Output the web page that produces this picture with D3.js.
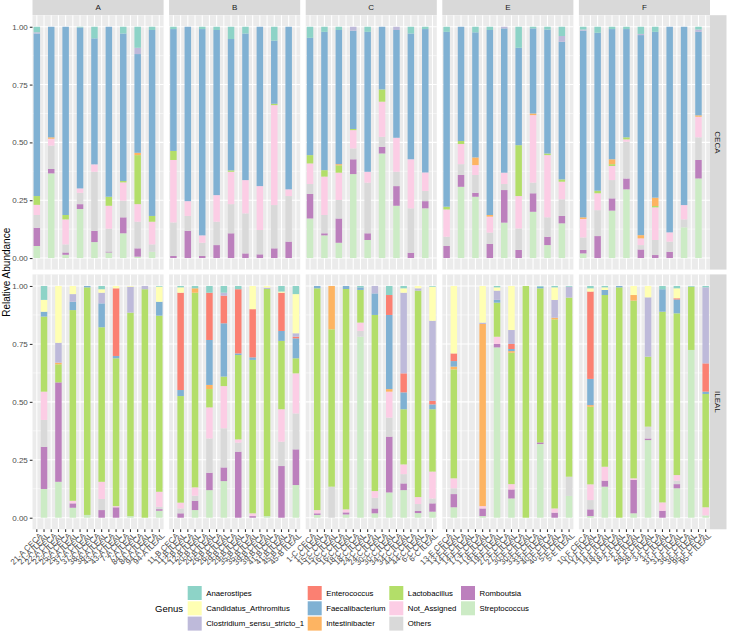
<!DOCTYPE html>
<html><head><meta charset="utf-8">
<script src="https://cdn.jsdelivr.net/npm/d3@7"></script>
<style>body{margin:0;background:#fff} svg{display:block} text{font-family:"Liberation Sans",Arial,Helvetica,sans-serif}</style>
</head><body><svg id="c" width="729" height="634"></svg>
<script>
// ---------- data ----------
const genera = ["Anaerostipes","Candidatus_Arthromitus","Clostridium_sensu_stricto_1","Enterococcus","Faecalibacterium","Intestinibacter","Lactobacillus","Not_Assigned","Others","Romboutsia","Streptococcus"];
const genusColors = ["#8DD3C7","#FFFFB3","#BEBADA","#FB8072","#80B1D3","#FDB462","#B3DE69","#FCCDE5","#D9D9D9","#BC80BD","#CCEBC5"];
const groups = ["A","B","C","E","F"];
const segments = ["CECA","ILEAL"];
const sampleIds = [
  ["21-A","22-A","25-A","37-A","38-A","43-A","7-A","84-A","94-A"],
  ["11-B","12-B","20-B","26-B","29-B","35-B","39-B","41-B","45-B"],
  ["1-C","15-C","16-C","18-C","24-C","30-C","34-C","44-C","6-C"],
  ["13-E","14-E","17-E","19-E","27-E","30-E","33-E","40-E","5-E"],
  ["10-F","14-F","18-F","2-F","28-F","3-F","31-F","36-F","95-F"]
];
const yTicks = [0, 0.25, 0.5, 0.75, 1];

// values per genus, 45 samples each: groups A,B,C,E,F x 9 samples
const Anaerostipes_CECA = [.024,0,0,.003,.05,0,.029,.091,.014, .01,0,.01,.014,.053,.029,0,.06,0, .048,.022,.014,0,.022,0,0,.029,.01, .022,0,.024,.014,0,.091,.007,.012,.04, .012,.026,.01,.01,.031,.022,0,0,.012];
const Candidatus_Arthromitus_CECA = [0,0,0,0,0,0,0,0,0, 0,0,0,0,0,0,0,0,0, 0,0,0,0,0,0,0,0,0, 0,0,0,0,0,0,0,0,0, 0,0,0,0,0,0,0,0,0];
const Clostridium_CECA = [.005,0,0,0,0,0,0,.027,0, 0,0,0,0,0,0,0,0,0, 0,0,0,.017,0,0,.014,0,0, 0,0,0,0,.007,0,0,0,.025, .005,0,0,0,.005,0,0,0,.01];
const Enterococcus_CECA = [0,0,0,0,0,0,0,0,0, 0,0,0,0,0,0,0,0,0, 0,0,0,0,0,0,0,0,0, 0,0,0,0,0,0,0,0,0, 0,0,0,0,0,0,0,0,0];
const Faecalibacterium_CECA = [.703,.478,.814,.696,.545,.735,.638,.427,.804, .527,.754,.892,.714,.568,.634,.689,.273,.703, .507,.598,.58,.425,.605,.271,.466,.544,.62, .756,.494,.541,.8,.624,.421,.368,.536,.595, .807,.683,.563,.468,.865,.717,.889,.771,.361];
const Intestinibacter_CECA = [0,.006,0,0,0,0,0,.01,0, 0,0,0,0,0,0,0,0,0, 0,0,.005,0,0,0,0,0,0, 0,0,.033,.007,0,0,.007,0,0, .007,0,.021,0,.014,.036,0,0,.006];
const Lactobacillus_CECA = [.038,0,.019,0,0,.039,.006,.212,.025, .039,0,0,0,.006,0,0,.006,0, .036,.028,.032,.005,0,.053,0,0,0, .012,.013,0,0,0,.22,0,.007,.01, 0,.011,.008,.009,0,.006,0,0,0];
const Not_Assigned_CECA = [.044,.03,.108,.019,.032,.099,.079,.076,.098, .27,.064,.032,.115,.14,.144,.19,.432,.029, .089,.166,.118,.079,.047,.152,.147,.212,.08, .118,.087,.043,.069,.049,.14,.292,.269,.076, .08,.073,.061,.01,.029,.141,.04,.062,.089];
const Others_CECA = [.055,.101,.035,.049,.256,.099,.072,.115,.032, .145,.064,.057,.101,.126,.173,.105,.187,.197, .043,.079,.08,.047,.219,.043,.062,.192,.044, .04,.047,.077,.049,.026,.093,.046,.084,.072, .054,.112,.079,.159,.019,.065,.044,.034,.098];
const Romboutsia_CECA = [.079,.019,.01,.021,.048,.004,.069,.036,0, .009,.118,.009,.056,.107,.02,.016,.042,.071, .106,.009,.105,.064,.029,.029,.085,.023,.031, .052,.051,.017,.061,.141,.035,.08,.036,.032, .015,.095,.053,.047,.037,.013,.027,0,.08];
const Streptococcus_CECA = [.052,.366,.014,.212,.069,.024,.107,.006,.027, 0,0,0,0,0,0,0,0,0, .171,.098,.066,.363,.078,.452,.226,0,.215, 0,.308,.265,0,.153,0,.2,.056,.15, .02,0,.205,.297,0,0,0,.133,.344];

const Anaerostipes_ILEAL = [.06,0,0,0,.014,0,0,0,.003, .006,.01,.029,.029,.014,0,0,.024,.035, 0,0,0,.006,0,.039,.01,0,.003, 0,0,0,.006,0,0,.003,.006,.003, .01,.006,0,0,0,.014,.01,.003,.006];
const Candidatus_Arthromitus_ILEAL = [.051,.245,.035,0,.015,.01,.003,0,.065, .023,0,0,0,0,.1,.007,.005,.169, 0,0,0,0,0,0,.019,.01,.147, .291,0,.158,.014,.19,0,0,.054,0, .014,.011,0,.039,.049,0,.043,0,0];
const Clostridium_ILEAL = [0,.086,.033,0,.046,0,.112,.014,0, 0,0,0,.013,0,0,.006,0,.015, 0,0,0,0,.032,0,.348,.01,.346, 0,0,.006,.04,.06,0,0,.077,.047, 0,0,0,0,.256,0,0,0,.328];
const Enterococcus_ILEAL = [0,0,0,0,0,.292,0,0,0, .42,0,.204,.119,.277,.208,0,.165,.007, 0,0,0,0,0,.086,.082,0,.015, .033,0,0,0,.022,0,0,0,0, .377,0,0,0,0,0,.005,0,.122];
const Faecalibacterium_ILEAL = [.021,0,.036,.006,.103,.01,0,0,.06, .026,0,.194,.23,.007,.011,0,.043,.086, .01,0,.013,.011,.093,.32,.073,0,.021, .024,0,0,.012,.009,0,.007,0,0, .113,.022,.006,0,0,.097,.06,0,.01];
const Intestinibacter_ILEAL = [0,.007,0,0,0,0,0,0,0, 0,.019,.018,0,0,0,0,0,0, 0,.187,0,0,0,.011,0,0,0, .012,0,.786,0,.007,0,0,.007,0, .007,0,0,.024,0,0,0,0,0];
const Lactobacillus_ILEAL = [.324,.078,.823,.982,.667,.638,.878,.986,.76, .46,.84,.079,.041,.364,.662,.98,.295,.065, .957,.679,.951,.141,.76,0,.238,.891,.269, .47,0,0,.147,.567,1,.665,.816,.773, .335,.741,.994,.767,.302,.823,.698,.273,.489];
const Not_Assigned_ILEAL = [.122,0,.011,0,.074,.005,0,0,.065, .025,.036,.134,.182,.014,.012,0,.14,.173, .014,0,.013,.036,.029,.112,.042,.03,.116, .043,0,.01,.031,.023,0,0,.018,0, .068,.06,0,.007,0,.036,.024,0,.035];
const Others_ILEAL = [.116,0,0,0,.048,0,0,0,.01, .021,.022,.148,.169,.039,0,0,.105,.155, 0,.134,0,.025,.046,.082,.04,.03,.021, .025,0,0,0,0,0,0,0,.083, .04,0,0,0,.051,0,.015,0,0];
const Romboutsia_ILEAL = [.182,.429,.019,0,.033,.045,0,0,.007, .019,.04,.075,.059,.285,.007,0,.223,.154, .007,0,.009,0,.021,.241,.029,.009,.036, .057,0,.033,.015,.039,0,.007,.022,0, .029,.026,0,.144,.007,.03,.018,0,0];
const Streptococcus_ILEAL = [.124,.155,.043,.012,0,0,.007,0,.03, 0,.033,.119,.158,0,0,.007,0,.141, .012,0,.014,.781,.019,.109,.119,.02,.026, .045,0,.007,.735,.083,0,.318,0,.094, .007,.134,0,.019,.335,0,.127,.724,.01];

const cecaSeries = [Anaerostipes_CECA,Candidatus_Arthromitus_CECA,Clostridium_CECA,Enterococcus_CECA,Faecalibacterium_CECA,Intestinibacter_CECA,Lactobacillus_CECA,Not_Assigned_CECA,Others_CECA,Romboutsia_CECA,Streptococcus_CECA];
const ilealSeries = [Anaerostipes_ILEAL,Candidatus_Arthromitus_ILEAL,Clostridium_ILEAL,Enterococcus_ILEAL,Faecalibacterium_ILEAL,Intestinibacter_ILEAL,Lactobacillus_ILEAL,Not_Assigned_ILEAL,Others_ILEAL,Romboutsia_ILEAL,Streptococcus_ILEAL];

// ---------- layout ----------
const svg = d3.select("#c");
const color = d3.scaleOrdinal().domain(genera).range(genusColors);
const panelX0 = 32.5, panelW = 131.1, gapX = 5.5;
const rows = [{top:15.2, bottom:269.6},{top:274.4, bottom:529.3}];
const stripH = 15, rightStripW = 16.5;
const gridCol = "#FFFFFF", panelBg = "#EBEBEB", stripBg = "#D9D9D9", axisCol = "#4D4D4D";

const rowsData = [];
segments.forEach((seg, si) => {
  const series = si === 0 ? cecaSeries : ilealSeries;
  groups.forEach((g, gi) => {
    sampleIds[gi].forEach((id, k) => {
      const idx = gi * 9 + k;
      const r = {group: g, seg: seg, cat: id + " " + seg};
      genera.forEach((ge, j) => r[ge] = series[j][idx]);
      rowsData.push(r);
    });
  });
});

const stack = d3.stack().keys(genera.slice().reverse()).offset(d3.stackOffsetExpand);

groups.forEach((g, gi) => {
  const x0 = panelX0 + gi * (panelW + gapX);
  const cats = [];
  sampleIds[gi].forEach(id => { cats.push(id + " CECA"); cats.push(id + " ILEAL"); });
  const x = d3.scaleBand().domain(cats).range([x0, x0 + panelW]).paddingInner(0.1).paddingOuter(0.15);

  // top strip
  svg.append("rect").attr("x", x0).attr("y", 0).attr("width", panelW).attr("height", stripH).attr("fill", stripBg);
  svg.append("text").attr("x", x0 + panelW / 2).attr("y", stripH / 2).attr("dy", "0.35em")
    .attr("text-anchor", "middle").attr("font-size", 8).attr("fill", "#1A1A1A").text(g);

  segments.forEach((seg, si) => {
    const R = rows[si];
    const y = d3.scaleLinear().domain([-0.05, 1.05]).range([R.bottom, R.top]);
    const p = svg.append("g");
    p.append("rect").attr("x", x0).attr("y", R.top).attr("width", panelW).attr("height", R.bottom - R.top).attr("fill", panelBg);
    // minor grid
    [0.125, 0.375, 0.625, 0.875].forEach(v => p.append("line").attr("x1", x0).attr("x2", x0 + panelW)
      .attr("y1", y(v)).attr("y2", y(v)).attr("stroke", gridCol).attr("stroke-width", 0.53));
    yTicks.forEach(v => p.append("line").attr("x1", x0).attr("x2", x0 + panelW)
      .attr("y1", y(v)).attr("y2", y(v)).attr("stroke", gridCol).attr("stroke-width", 1.07));
    cats.forEach(c => p.append("line").attr("x1", x(c) + x.bandwidth() / 2).attr("x2", x(c) + x.bandwidth() / 2)
      .attr("y1", R.top).attr("y2", R.bottom).attr("stroke", gridCol).attr("stroke-width", 1.07));

    const data = rowsData.filter(r => r.group === g && r.seg === seg);
    const st = stack(data);
    st.forEach(layer => {
      p.selectAll(null).data(layer.filter(d => d[1] - d[0] > 0)).enter().append("rect")
        .attr("x", d => x(d.data.cat)).attr("width", x.bandwidth())
        .attr("y", d => y(d[1])).attr("height", d => y(d[0]) - y(d[1]))
        .attr("fill", color(layer.key));
    });

    // y axis on first column
    if (gi === 0) {
      const ax = svg.append("g").attr("transform", `translate(${x0},0)`)
        .call(d3.axisLeft(y).tickValues(yTicks).tickFormat(d3.format(".2f")).tickSize(2.7).tickPadding(2));
      ax.select(".domain").remove();
      ax.selectAll("line").attr("stroke", "#333333").attr("stroke-width", 1.07);
      ax.selectAll("text").attr("font-size", 8).attr("fill", axisCol).style("font-family", '"Liberation Sans",Arial,sans-serif');
    }
    // right strip
    if (gi === groups.length - 1) {
      const sx = x0 + panelW;
      svg.append("rect").attr("x", sx).attr("y", R.top).attr("width", rightStripW).attr("height", R.bottom - R.top).attr("fill", stripBg);
      svg.append("text").attr("transform", `translate(${sx + rightStripW / 2},${(R.top + R.bottom) / 2}) rotate(90)`)
        .attr("dy", "0.35em").attr("text-anchor", "middle").attr("font-size", 8).attr("fill", "#1A1A1A").text(seg);
    }
  });

  // x axis at bottom
  const xa = svg.append("g").attr("transform", `translate(0,${rows[1].bottom})`)
    .call(d3.axisBottom(x).tickSize(2.7).tickPadding(1));
  xa.select(".domain").remove();
  xa.selectAll("line").attr("stroke", "#333333").attr("stroke-width", 1.07);
  xa.selectAll("text").attr("font-size", 8).attr("fill", axisCol)
    .attr("text-anchor", "end").attr("transform", "translate(2,3) rotate(-45)").attr("dy", "0.7em").attr("y", 0)
    .style("font-family", '"Liberation Sans",Arial,sans-serif');
});

// y axis title
svg.append("text").attr("transform", `translate(6,${(rows[0].top + rows[1].bottom) / 2}) rotate(-90)`)
  .attr("dy", "0.35em").attr("text-anchor", "middle").attr("font-size", 10).attr("fill", "#000").text("Relative Abundance");

// legend
const legX = [187.7, 307.7, 389.3, 461], legY = [586, 601.3, 616.6], keyS = 14;
svg.append("text").attr("x", 155).attr("y", legY[1] + keyS / 2).attr("dy", "0.35em").attr("font-size", 9.5).attr("fill", "#000").text("Genus");
genera.forEach((ge, i) => {
  const col = Math.floor(i / 3), row = i % 3;
  svg.append("rect").attr("x", legX[col]).attr("y", legY[row]).attr("width", keyS).attr("height", keyS).attr("fill", color(ge));
  svg.append("text").attr("x", legX[col] + 18.5).attr("y", legY[row] + keyS / 2).attr("dy", "0.35em")
    .attr("font-size", 7.8).attr("fill", "#000").text(ge);
});
</script></body></html>
